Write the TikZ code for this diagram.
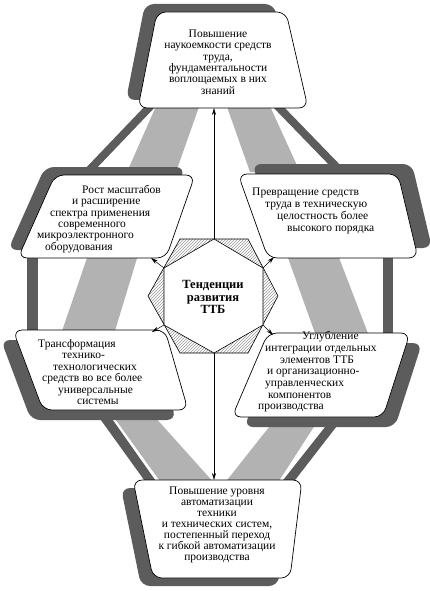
\documentclass[tikz,border=0pt]{standalone}
\usepackage{fontspec}
\setmainfont{Liberation Serif}
\usetikzlibrary{patterns,arrows.meta}
\definecolor{dk}{gray}{0.36}
\definecolor{lt}{gray}{0.70}
\newcommand\shpT{(157,12) -- (286,12) -- (308,108) -- (138,108) -- cycle}
\newcommand\shpUL{(55,175) -- (195,175) -- (166,258) -- (18,258) -- cycle}
\newcommand\shpUR{(238,174) -- (398,174) -- (418,258) -- (268,258) -- cycle}
\newcommand\shpLL{(13,330) -- (165,330) -- (188,410) -- (43,410) -- cycle}
\newcommand\shpLR{(268,333) -- (410,333) -- (383,417) -- (232,417) -- cycle}
\newcommand\shpB{(133,480) -- (302,480) -- (290,578) -- (153,578) -- cycle}
\begin{document}
\begin{tikzpicture}[x=1pt,y=-1pt,
  boxsh/.style={fill=dk, rounded corners=9pt},
  boxw/.style={draw=black, fill=white, line width=0.7pt, rounded corners=9pt},
  darkband/.style={fill=dk},
  lightband/.style={fill=lt},
  txt/.style={inner sep=0pt, font=\fontsize{11.5}{11.4}\selectfont},
  arr/.style={draw=black, line width=0.5pt, -{Stealth[length=7pt,width=4pt]}},
  hexo/.style={draw=black, line width=0.6pt, pattern=north east lines, pattern color=gray!80},
  hexi/.style={draw=black, fill=white, line width=0.6pt}]
\useasboundingbox (0,0) rectangle (430,591);
\fill[white] (0,0) rectangle (430,591);

% light bands
\fill[lightband] (157,104) -- (200,104) -- (176,172) -- (127,172) -- cycle;
\fill[lightband] (226,104) -- (269,104) -- (300,172) -- (250,172) -- cycle;
\fill[lightband] (88,255) -- (138,255) -- (114,334) -- (61,334) -- cycle;
\fill[lightband] (287,255) -- (338,255) -- (369,336) -- (316,336) -- cycle;
\fill[lightband] (113,416) -- (154,416) -- (215,484) -- (162,484) -- cycle;
\fill[lightband] (273,422) -- (317,422) -- (277,484) -- (224,484) -- cycle;
% dark bands
\fill[darkband] (147,104) -- (158,104) -- (93,172) -- (82,172) -- cycle;
\fill[darkband] (270,104) -- (281,104) -- (345,170) -- (334,170) -- cycle;
\fill[darkband] (27,255) -- (38,255) -- (38,334) -- (27,334) -- cycle;
\fill[darkband] (383,255) -- (393,255) -- (393,336) -- (383,336) -- cycle;
\fill[darkband] (98,416) -- (110,416) -- (158,484) -- (147,484) -- cycle;
\fill[darkband] (329,422) -- (340,422) -- (292,484) -- (280,484) -- cycle;

% shadows
\fill[boxsh, shift={(-12,-8)}] \shpT;
\fill[boxsh, shift={(-10,-8)}] \shpUL;
\fill[boxsh, shift={(14,-10)}] \shpUR;
\fill[boxsh, shift={(-12,10)}] \shpLL;
\fill[boxsh, shift={(12,10)}] \shpLR;
\fill[boxsh, shift={(-12,8)}] \shpB;

% boxes
\path[boxw] \shpT;
\path[boxw] \shpUL;
\path[boxw] \shpUR;
\path[boxw] \shpLL;
\path[boxw] \shpLR;
\path[boxw] \shpB;

% texts
\node[txt, align=center] (tT) at (218,62) {Повышение\\наукоемкости средств\\труда,\\фундаментальности\\воплощаемых в них\\знаний};
\node[txt, align=left, anchor=west] (tUL) at (37,219) {\hspace*{45pt}Рост масштабов\\\hspace*{35pt}и расширение\\\hspace*{13pt}спектра применения\\\hspace*{21pt}современного\\микроэлектронного\\\hspace*{8pt}оборудования};
\node[txt, align=left, anchor=west, font=\fontsize{11.5}{12.3}\selectfont] (tUR) at (252,211) {Превращение средств\\\hspace*{13pt}труда в техническую\\\hspace*{25pt}целостность более\\\hspace*{35pt}высокого порядка};
\node[txt, align=left, anchor=west] (tLL) at (38,372) {Трансформация\\\hspace*{24pt}технико-\\\hspace*{15pt}технологических\\\hspace*{4pt}средств во все более\\\hspace*{20pt}универсальные\\\hspace*{39pt}системы};
\node[txt, align=left, anchor=west, font=\fontsize{11.5}{11.67}\selectfont] (tLR) at (258,372) {\hspace*{44pt}Углубление\\\hspace*{7pt}интеграции отдельных\\\hspace*{22pt}элементов ТТБ\\\hspace*{9pt}и организационно-\\\hspace*{7pt}управленческих\\\hspace*{10pt}компонентов\\производства};
\node[txt, align=center, font=\fontsize{11.5}{10.9}\selectfont] (tB) at (217,525) {Повышение уровня\\автоматизации\\техники\\и технических систем,\\постепенный переход\\к гибкой автоматизации\\производства};

% hexagon
\path[hexo] (180,239) -- (248,239) -- (278,296) -- (248,353) -- (180,353) -- (148,296) -- cycle;
\coordinate (hT) at (214,239);
\coordinate (hUR) at (263,268);
\coordinate (hLR) at (263,325);
\coordinate (hB) at (214,353);
\coordinate (hLL) at (164,325);
\coordinate (hUL) at (164,268);
\path[hexi] (hT) -- (hUR) -- (hLR) -- (hB) -- (hLL) -- (hUL) -- cycle;
\node[inner sep=0pt, align=center, font=\fontsize{12.5}{12.5}\selectfont\bfseries] (ctr) at (213,297) {Тенденции\\развития\\ТТБ};

% arrow targets
\coordinate (aT) at (214,108);
\coordinate (aB) at (214,480);
\coordinate (aUL) at (151,258);
\coordinate (aUR) at (274,257);
\coordinate (aLL) at (152,332);
\coordinate (aLR) at (273,335);
\draw[arr] (hT) -- (aT);
\draw[arr] (hB) -- (aB);
\draw[arr] (hUL) -- (aUL);
\draw[arr] (hUR) -- (aUR);
\draw[arr] (hLL) -- (aLL);
\draw[arr] (hLR) -- (aLR);
\end{tikzpicture}
\end{document}
